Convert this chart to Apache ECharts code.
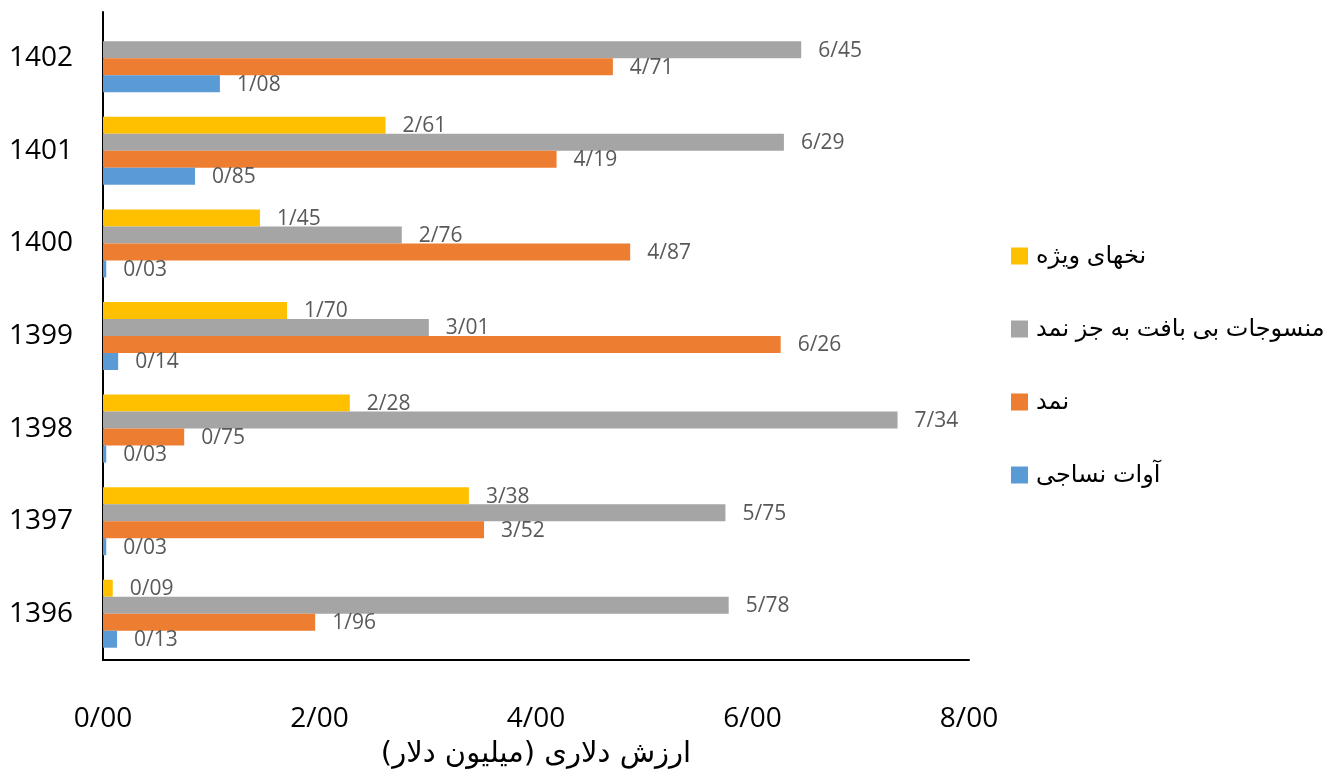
<!DOCTYPE html>
<html><head><meta charset="utf-8">
<script src="https://cdn.jsdelivr.net/npm/echarts@6/dist/echarts.min.js"></script>
<style>html,body{margin:0;padding:0;background:#fff}#c{width:1336px;height:774px}</style>
</head><body><div id="c"></div>
<script>
var categories = ['1396','1397','1398','1399','1400','1401','1402'];
var seriesNames = ['نخهای ویژه','منسوجات بی بافت به جز نمد','نمد','آوات نساجی'];
var yellowValues = [0.09, 3.38, 2.28, 1.70, 1.45, 2.61, null];
var grayValues = [5.78, 5.75, 7.34, 3.01, 2.76, 6.29, 6.45];
var orangeValues = [1.96, 3.52, 0.75, 6.26, 4.87, 4.19, 4.71];
var blueValues = [0.13, 0.03, 0.03, 0.14, 0.03, 0.85, 1.08];
var colors = ['#FFC000','#A5A5A5','#ED7D31','#5B9BD5'];
var xTicks = [0, 2, 4, 6, 8];
var axisTitle = 'ارزش دلاری (میلیون دلار)';

function fmt(v){ return Number(v).toFixed(2).replace('.', '/'); }
var allValues = [yellowValues, grayValues, orangeValues, blueValues];
var chart = echarts.init(document.getElementById('c'));
chart.setOption({
  animation: false,
  grid: {left: 103, right: 367, top: 12, bottom: 104, containLabel: false},
  legend: {
    orient: 'vertical', left: 1006, top: 239, itemGap: 49,
    itemWidth: 17, itemHeight: 17,
    data: seriesNames.slice(),
    textStyle: {fontSize: 24, color: '#000', fontFamily: 'Liberation Sans, DejaVu Sans, sans-serif', padding: [0,0,0,3]},
    icon: 'rect'
  },
  xAxis: {
    type: 'value', min: xTicks[0], max: xTicks[xTicks.length-1], interval: 2,
    axisLine: {show: true, lineStyle: {color: '#000', width: 2}},
    axisTick: {show: false},
    splitLine: {show: false},
    axisLabel: {fontSize: 28, color: '#000', margin: 45, fontFamily: 'Open Sans, sans-serif', formatter: fmt},
    name: axisTitle, nameLocation: 'middle', nameGap: 80,
    nameTextStyle: {fontSize: 29, color: '#000', fontFamily: 'DejaVu Sans, sans-serif'}
  },
  yAxis: {
    type: 'category', data: categories,
    axisLine: {show: true, lineStyle: {color: '#000', width: 2}},
    axisTick: {show: false},
    axisLabel: {fontSize: 28, color: '#000', margin: 30, fontFamily: 'Open Sans, sans-serif'}
  },
  series: seriesNames.map(function(n, i){
    return {
      name: n, type: 'bar', data: allValues[i],
      barWidth: 17, barGap: '0%',
      itemStyle: {color: colors[i]},
      label: {show: true, position: 'right', distance: 17, fontSize: 21, color: '#595959',
        fontFamily: 'Open Sans, sans-serif', offset: [0, 1],
        formatter: function(p){ return p.value == null ? '' : fmt(p.value); }}
    };
  })
});
</script></body></html>
